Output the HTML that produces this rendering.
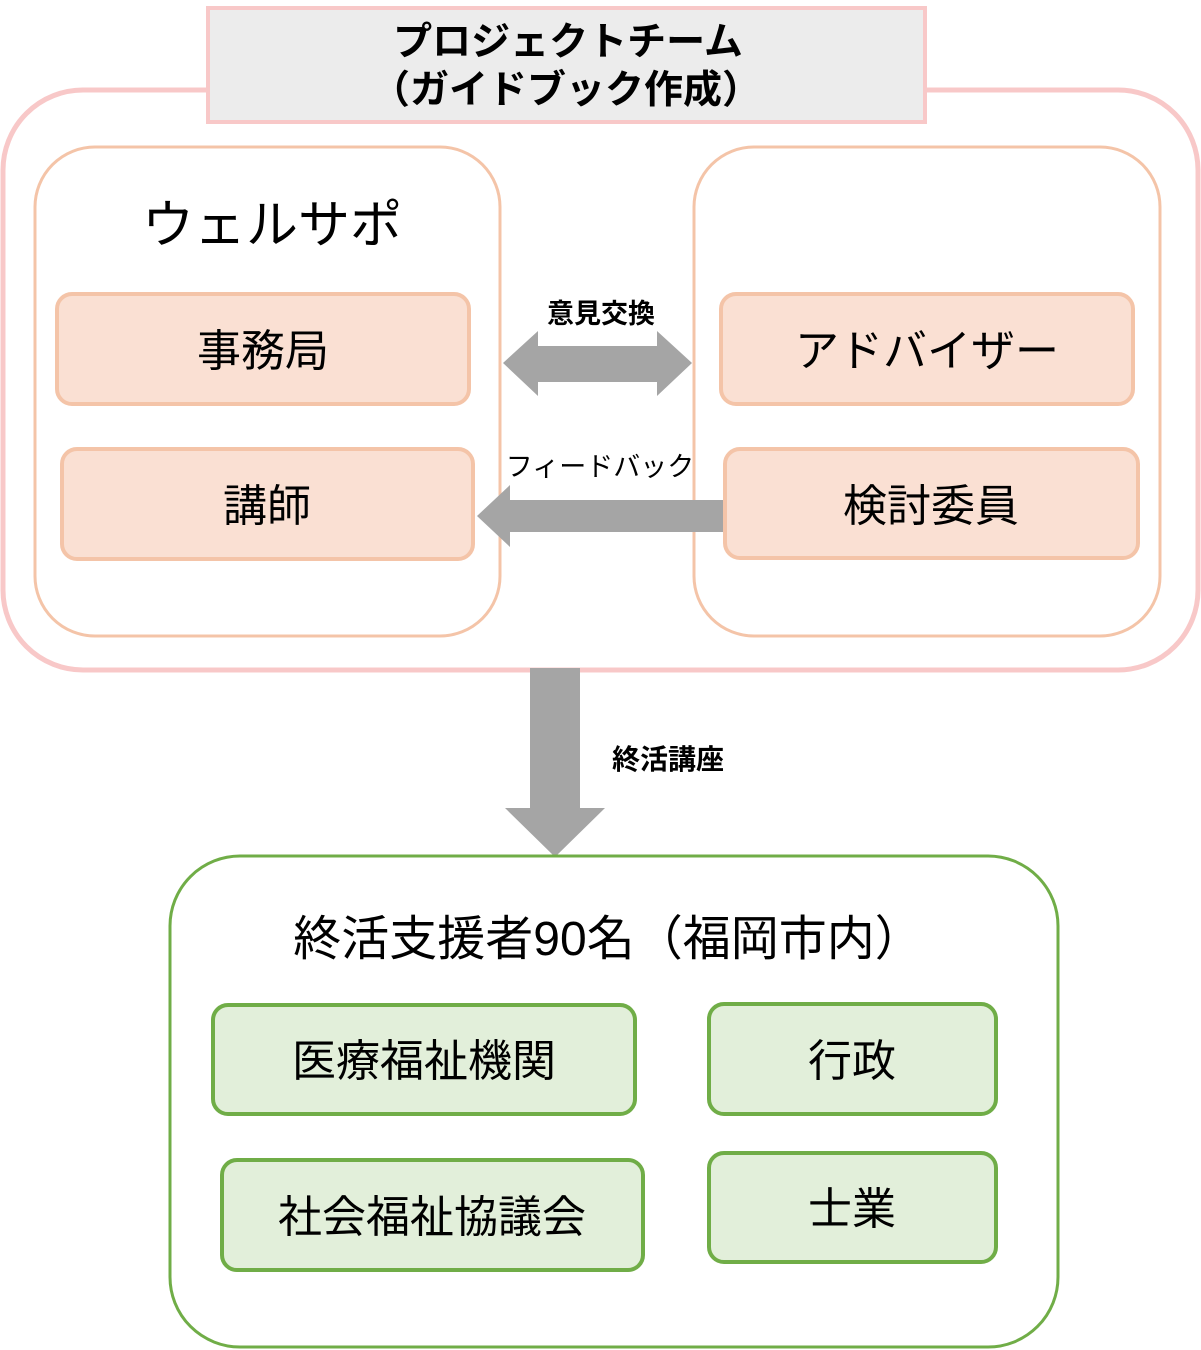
<!DOCTYPE html>
<html><head><meta charset="utf-8"><style>
html,body{margin:0;padding:0;background:#fff;}
svg{display:block;}
text{font-family:"Liberation Sans","Noto Sans CJK JP",sans-serif;fill:#000;}
</style></head><body>
<svg width="1201" height="1350" viewBox="0 0 1201 1350" xmlns="http://www.w3.org/2000/svg">
<rect x="3" y="90" width="1195" height="580" rx="80" fill="#fff" stroke="#f8c8c8" stroke-width="5"/>
<rect x="208" y="8" width="717" height="114" fill="#ececec" stroke="#f8c8c8" stroke-width="4"/>
<text x="568" y="55" font-size="39" font-weight="bold" text-anchor="middle">プロジェクトチーム</text>
<text x="566" y="103" font-size="39" font-weight="bold" text-anchor="middle">（ガイドブック作成）</text>

<rect x="35" y="147" width="465" height="489" rx="60" fill="#fff" stroke="#f4c4a8" stroke-width="3"/>
<rect x="694" y="147" width="466" height="489" rx="60" fill="#fff" stroke="#f4c4a8" stroke-width="3"/>
<text x="272" y="243" font-size="52" text-anchor="middle">ウェルサポ</text>

<rect x="57" y="294" width="412" height="110" rx="15" fill="#fae0d3" stroke="#f4c4a8" stroke-width="4"/>
<text x="263" y="366" font-size="44" text-anchor="middle">事務局</text>
<rect x="62" y="449" width="411" height="110" rx="15" fill="#fae0d3" stroke="#f4c4a8" stroke-width="4"/>
<text x="267" y="521" font-size="44" text-anchor="middle">講師</text>
<rect x="721" y="294" width="412" height="110" rx="15" fill="#fae0d3" stroke="#f4c4a8" stroke-width="4"/>
<text x="927" y="366" font-size="44" text-anchor="middle">アドバイザー</text>
<rect x="725" y="449" width="413" height="109" rx="15" fill="#fae0d3" stroke="#f4c4a8" stroke-width="4"/>
<text x="931" y="521" font-size="44" text-anchor="middle">検討委員</text>

<text x="601" y="323" font-size="27" font-weight="bold" text-anchor="middle">意見交換</text>
<polygon points="503,363 538,331 538,346 657,346 657,331 692,363 657,396 657,382 538,382 538,396" fill="#a5a5a5"/>
<text x="600" y="476" font-size="27" text-anchor="middle">フィードバック</text>
<polygon points="477,516 510,485 510,500 723,500 723,532 510,532 510,547" fill="#a5a5a5"/>

<polygon points="530,668 580,668 580,808 605,808 555,857 505,808 530,808" fill="#a5a5a5"/>
<text x="668" y="769" font-size="28" font-weight="bold" text-anchor="middle">終活講座</text>

<rect x="170" y="856" width="888" height="491" rx="70" fill="#fff" stroke="#70ad47" stroke-width="3"/>
<text x="608" y="955" font-size="48" text-anchor="middle">終活支援者90名（福岡市内）</text>

<rect x="213" y="1005" width="422" height="109" rx="15" fill="#e2efda" stroke="#70ad47" stroke-width="4"/>
<text x="424" y="1076" font-size="44" text-anchor="middle">医療福祉機関</text>
<rect x="709" y="1004" width="287" height="110" rx="15" fill="#e2efda" stroke="#70ad47" stroke-width="4"/>
<text x="852" y="1076" font-size="44" text-anchor="middle">行政</text>
<rect x="222" y="1160" width="421" height="110" rx="15" fill="#e2efda" stroke="#70ad47" stroke-width="4"/>
<text x="432" y="1232" font-size="44" text-anchor="middle">社会福祉協議会</text>
<rect x="709" y="1153" width="287" height="109" rx="15" fill="#e2efda" stroke="#70ad47" stroke-width="4"/>
<text x="852" y="1224" font-size="44" text-anchor="middle">士業</text>
</svg>
</body></html>
